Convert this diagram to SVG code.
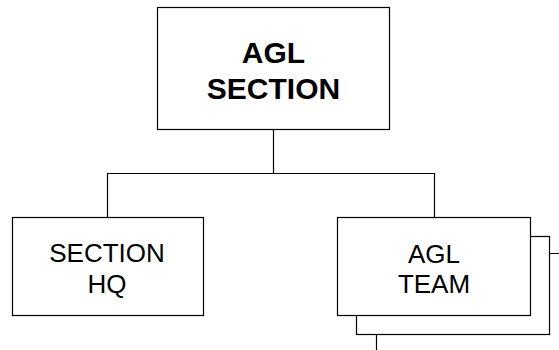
<svg xmlns="http://www.w3.org/2000/svg" width="559" height="350" viewBox="0 0 559 350">
<style>
.box{fill:#fff;stroke:#000;stroke-width:1.2}
.ln{fill:none;stroke:#000;stroke-width:1.2}
.t{font-family:"Liberation Sans",Arial,sans-serif;text-anchor:middle;fill:#000}
.b{font-weight:bold;font-size:30px}
.r{font-size:26px}
</style>
<rect width="559" height="350" fill="#fff"/>
<g id="connectors">
<path class="ln" d="M273.5,129 V173.5 H107.5 V217 M273.5,173.5 H434.5 V217"/>
<path class="ln" d="M549,253.5 H559 M376.5,334 V350"/>
</g>
<g id="agl-section">
<rect class="box" x="157.5" y="7.5" width="232" height="122"/>
<text class="t b" x="273.5" y="63">AGL</text>
<text class="t b" x="273.5" y="99">SECTION</text>
</g>
<g id="section-hq">
<rect class="box" x="12.5" y="217.5" width="191" height="98"/>
<text class="t r" x="107" y="262">SECTION</text>
<text class="t r" x="107" y="293">HQ</text>
</g>
<g id="agl-team">
<rect class="box" x="356.5" y="236.5" width="193" height="98"/>
<rect class="box" x="337.5" y="217.5" width="193" height="98"/>
<text class="t r" x="434" y="263">AGL</text>
<text class="t r" x="434" y="293">TEAM</text>
</g>
</svg>
